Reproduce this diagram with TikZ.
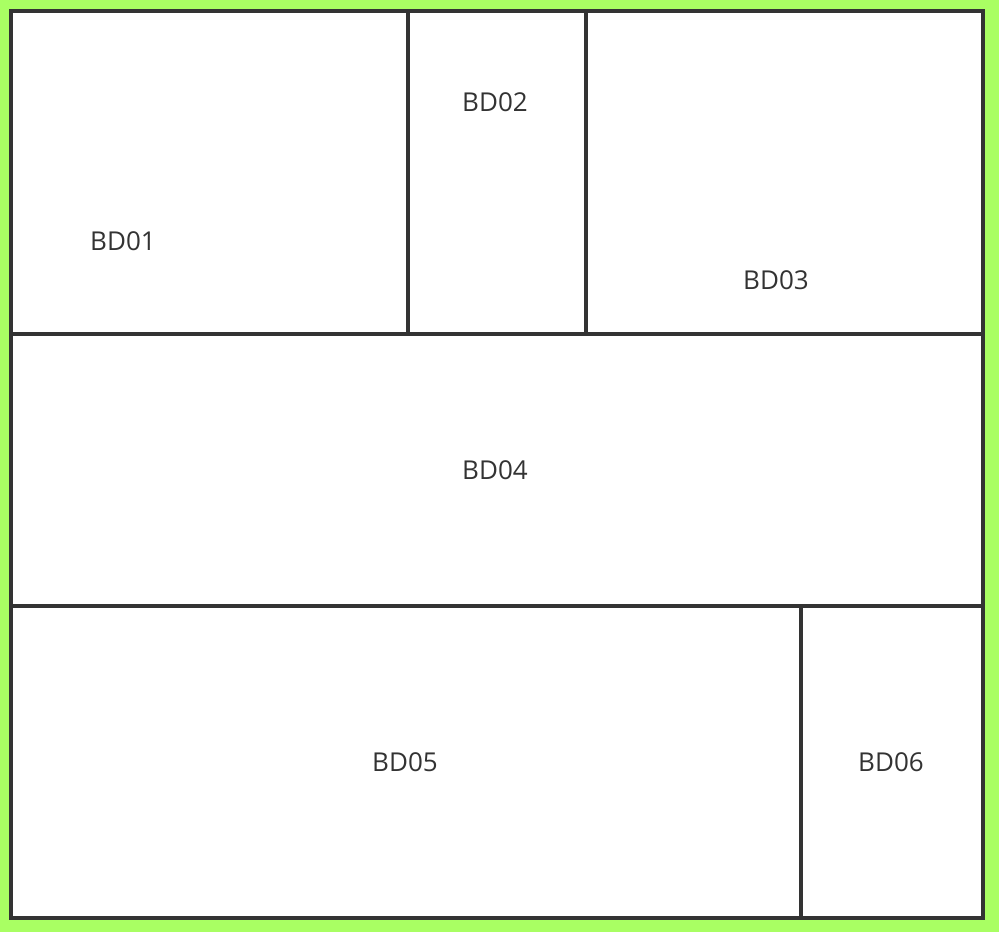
\documentclass[tikz,border=0pt]{standalone}
\usepackage{fontspec}
\setmainfont{Open Sans}
\definecolor{bggreen}{HTML}{A9FF63}
\definecolor{ink}{HTML}{333333}
\begin{document}
\begin{tikzpicture}[x=1pt,y=-1pt,
  wall/.style={draw=ink,line width=4pt},
  lbl/.style={text=ink,font=\fontsize{26}{30}\selectfont,inner sep=0pt}]
\useasboundingbox (0,0) rectangle (999,932);
\fill[bggreen] (0,0) rectangle (999,932);
\fill[white] (11,11) rectangle (983,918);
% outer frame
\draw[wall] (11,11) rectangle (983,918);
% inner walls
\draw[wall] (11,334) -- (983,334);
\draw[wall] (11,606) -- (983,606);
\draw[wall] (408,11) -- (408,334);
\draw[wall] (586,11) -- (586,334);
\draw[wall] (801,606) -- (801,918);
% labels
\node[lbl] (bd01) at (123,241) {BD01};
\node[lbl] (bd02) at (495,102) {BD02};
\node[lbl] (bd03) at (776,280) {BD03};
\node[lbl] (bd04) at (495,470) {BD04};
\node[lbl] (bd05) at (405,762) {BD05};
\node[lbl] (bd06) at (891,762) {BD06};
\end{tikzpicture}
\end{document}
